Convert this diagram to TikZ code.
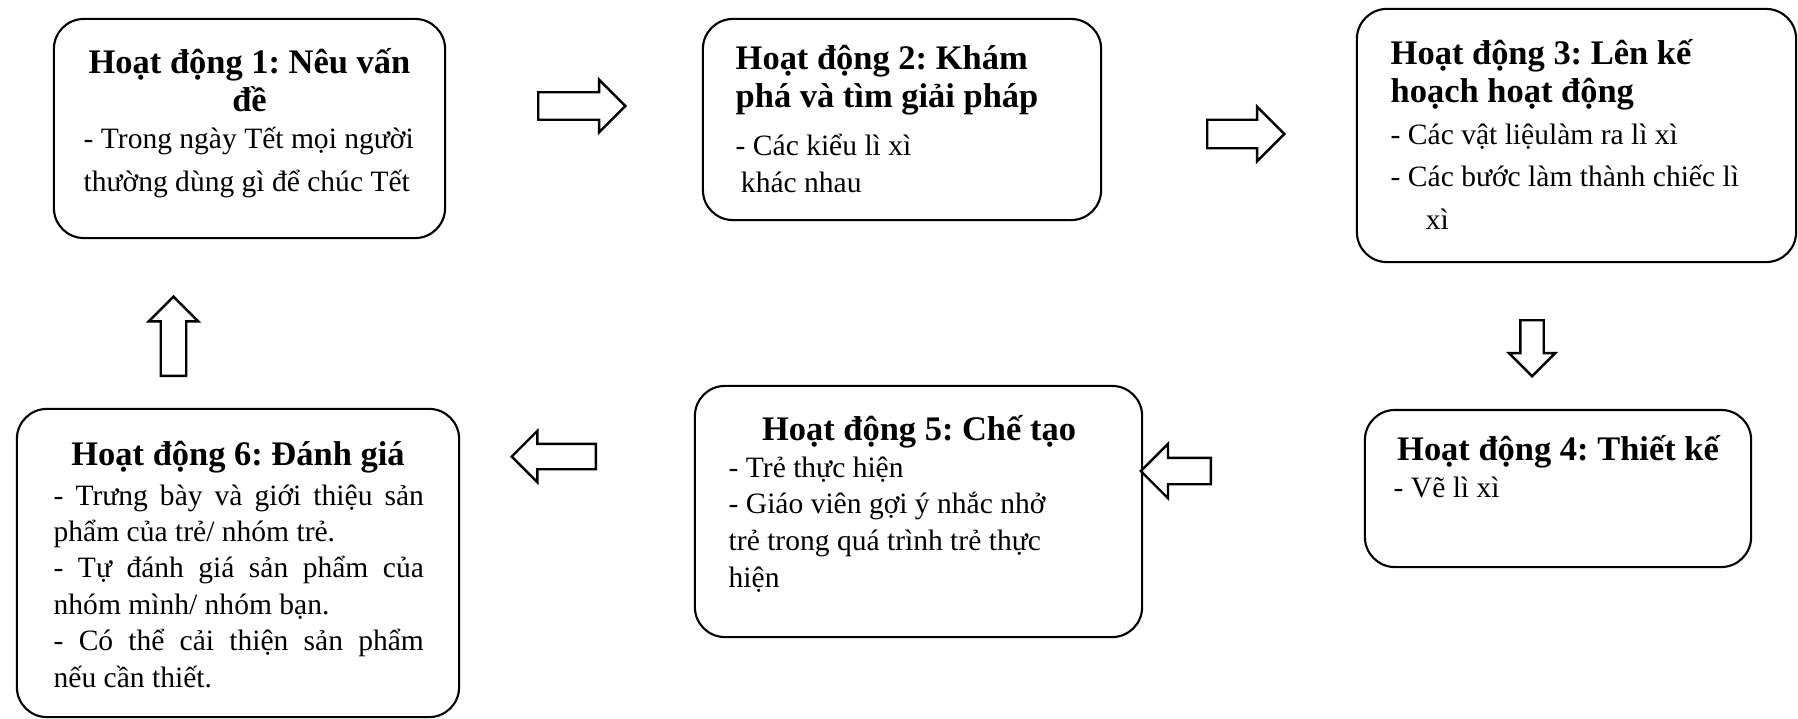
\documentclass[tikz,border=0pt]{standalone}
\usepackage{fontspec}
\setmainfont{Liberation Serif}
\frenchspacing
\usetikzlibrary{shapes.arrows}
\tikzset{stepbox/.style={draw, line width=0.6pt, rounded corners=0.3cm, inner sep=0pt},
  steptitle/.style={font=\fontsize{9.8}{10.6}\selectfont\bfseries, inner sep=0pt},
  stepbody/.style={font=\fontsize{8.4}{#1}\selectfont, align=left, inner sep=0pt, anchor=base west},
  stepbody/.default=10.4pt,
  blockarrow/.style 2 args={single arrow, draw, line width=0.7pt, inner sep=#1,
    text width=0pt, text height=0pt, text depth=0pt, single arrow head extend=#2}}

\begin{document}
\begin{tikzpicture}[x=0.01cm, y=-0.01cm]
\useasboundingbox (0,0) rectangle (1798,718);

\node[stepbox, minimum width=3.91cm, minimum height=2.19cm] (B1) at (249.5,128.5) {};
\node[stepbox, minimum width=3.98cm, minimum height=2.01cm] (B2) at (902,119.5) {};
\node[stepbox, minimum width=4.39cm, minimum height=2.53cm] (B3) at (1576.5,135.5) {};
\node[stepbox, minimum width=3.86cm, minimum height=1.57cm] (B4) at (1558,488.5) {};
\node[stepbox, minimum width=4.47cm, minimum height=2.51cm] (B5) at (918.5,511.5) {};
\node[stepbox, minimum width=4.42cm, minimum height=3.08cm] (B6) at (238,563) {};

\node[steptitle, align=center, anchor=base] (T1) at (249.5,111) {Hoạt động 1: Nêu vấn\\đề};
\node[stepbody=12.2pt] (P1) at (83,191) {- Trong ngày Tết mọi người\\thường dùng gì để chúc Tết};

\node[steptitle, align=left, anchor=base west] (T2) at (735,107) {Hoạt động 2: Khám\\phá và tìm giải pháp};
\node[stepbody=10.5pt] (P2) at (735,192) {- Các kiểu lì xì\\\hspace*{1.5pt}khác nhau};

\node[steptitle, align=left, anchor=base west] (T3) at (1390,102) {Hoạt động 3: Lên kế\\hoạch hoạt động};
\node[stepbody=12pt] (P3) at (1390,229) {- Các vật liệulàm ra lì xì\\- Các bước làm thành chiếc lì\\\hspace*{0.35cm}xì};

\node[steptitle, anchor=base] (T4) at (1558,460) {Hoạt động 4: Thiết kế};
\node[stepbody] (P4) at (1393,497) {- Vẽ lì xì};

\node[steptitle, anchor=base] (T5) at (919,440) {Hoạt động 5: Chế tạo};
\node[stepbody] (P5) at (728,587) {- Trẻ thực hiện\\- Giáo viên gợi ý nhắc nhở\\trẻ trong quá trình trẻ thực\\hiện};

\node[steptitle, anchor=base] (T6) at (238,465) {Hoạt động 6: Đánh giá};
\node[stepbody=10.35pt] (P6) at (53,687) {\makebox[3.7cm][s]{- Trưng bày và giới thiệu sản}\\phẩm của trẻ/ nhóm trẻ.\\\makebox[3.7cm][s]{- Tự đánh giá sản phẩm của}\\nhóm mình/ nhóm bạn.\\\makebox[3.7cm][s]{- Có thể cải thiện sản phẩm}\\nếu cần thiết.};

\node[blockarrow={0.125cm}{0.125cm}, minimum height=0.87cm, anchor=tail] (A12) at (537,106) {};
\node[blockarrow={0.13cm}{0.13cm}, minimum height=0.77cm, anchor=tail] (A23) at (1206,134) {};
\node[blockarrow={0.105cm}{0.115cm}, minimum height=0.56cm, shape border rotate=270, anchor=tail] (A34) at (1532,319) {};
\node[blockarrow={0.12cm}{0.14cm}, minimum height=0.70cm, shape border rotate=180, anchor=tail] (A45) at (1212,471) {};
\node[blockarrow={0.115cm}{0.13cm}, minimum height=0.84cm, shape border rotate=180, anchor=tail] (A56) at (597,456.5) {};
\node[blockarrow={0.115cm}{0.12cm}, minimum height=0.79cm, shape border rotate=90, anchor=tail] (A61) at (173.5,377) {};
\end{tikzpicture}
\end{document}
